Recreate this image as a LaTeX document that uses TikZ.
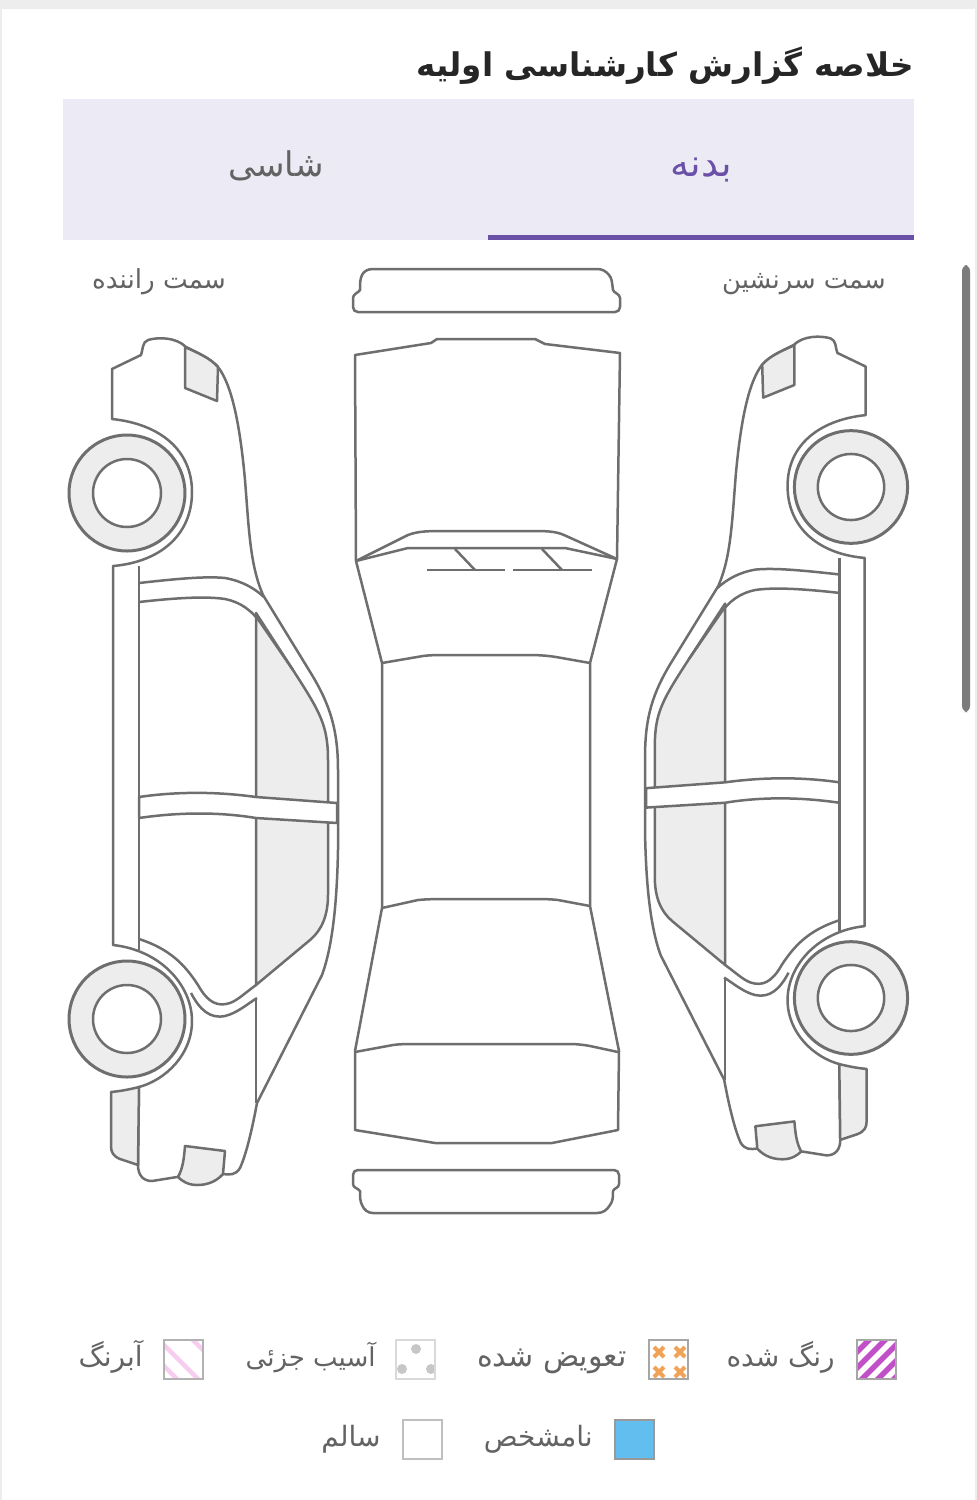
\documentclass[tikz,border=0pt]{standalone}
\usepackage{fontspec}
\usetikzlibrary{positioning}
\setmainfont{DejaVu Sans}
\newfontfamily\farsi[Script=Arabic]{DejaVu Sans}
\TeXXeTstate=1
\definecolor{linegray}{HTML}{6E6E6E}
\definecolor{partgray}{HTML}{EDEDED}
\definecolor{tabback}{HTML}{ECEBF5}
\definecolor{tabpurple}{HTML}{6A50A7}
\definecolor{labelgray}{HTML}{636363}
\definecolor{paintpurple}{HTML}{C04FC8}
\definecolor{swaporange}{HTML}{F0A257}
\definecolor{washpink}{HTML}{F6CDEE}
\definecolor{unknownblue}{HTML}{62BEEE}

% one side of the car, drawn for the left hand view
\newcommand{\sidecar}{
    % body
    \draw[part] (112,419) -- (112,369) -- (141,355) .. controls (143,350) and (142,342) .. (148,340)
        .. controls (158,337) and (176,337) .. (186,347) .. controls (198,353) and (210,358) .. (218,367)
        .. controls (232,385) and (240,425) .. (245,480) .. controls (249,530) and (250,565) .. (263,595)
        -- (312,675) .. controls (330,705) and (338,730) .. (338,770) -- (338,850)
        .. controls (337,900) and (333,945) .. (322,975) -- (257,1103)
        .. controls (252,1130) and (246,1155) .. (240,1168) .. controls (236,1175) and (230,1175) .. (223,1174)
        -- (177,1177) -- (152,1181) .. controls (143,1181) and (138,1175) .. (138,1165) -- (139,1087)
        .. controls (165,1080) and (192,1055) .. (192,1021) .. controls (192,985) and (160,950) .. (113,945)
        -- (113,566) .. controls (160,562) and (192,535) .. (192,492) .. controls (192,450) and (160,424) .. (112,419) -- cycle;
    % window glass
    \draw[part, fill=partgray] (256,613) -- (293,670) .. controls (320,712) and (328,725) .. (328,760) -- (328,895)
        .. controls (328,915) and (322,930) .. (310,940) -- (256,985) -- cycle;
    % roof channel
    \draw[part] (139,583) .. controls (175,579) and (205,576) .. (225,578) .. controls (242,581) and (254,588) .. (264,597);
    \draw[part] (139,602) .. controls (175,598) and (205,596) .. (225,599) .. controls (240,602) and (252,610) .. (262,625) -- (293,670);
    % door sill channel
    \draw[part] (139,566) -- (139,950);
    \draw[part] (139,939) .. controls (170,949) and (185,965) .. (198,985) .. controls (208,1003) and (218,1007) .. (230,1003) .. controls (238,1000) and (245,993) .. (256,985);
    \draw[part] (191,993) .. controls (200,1010) and (210,1019) .. (225,1016) .. controls (237,1013) and (246,1005) .. (257,998);
    % pillar
    \draw[part] (256,613) -- (256,985);
    \draw[part] (256,998) -- (256,1103);
    \draw[part, fill=white] (139,797) .. controls (180,791) and (220,792) .. (256,797) -- (337,803) -- (337,823)
        -- (256,818) .. controls (220,812) and (180,812) .. (139,818) -- cycle;
    % lamps
    \draw[part, fill=partgray] (185,347) .. controls (198,353) and (210,358) .. (218,367) -- (217,401) -- (185,388) -- cycle;
    \draw[part, fill=partgray] (185,1146) -- (225,1151) -- (223,1174) .. controls (215,1183) and (205,1185) .. (197,1185)
        .. controls (188,1185) and (182,1181) .. (178,1177) .. controls (183,1168) and (184,1158) .. (185,1146) -- cycle;
    % rear bumper end
    \draw[part, fill=partgray] (111,1092) .. controls (122,1091) and (131,1089) .. (139,1087) -- (138,1165) -- (120,1159)
        .. controls (113,1156) and (111,1152) .. (111,1146) -- cycle;
    % wheels
    \draw[tyre] (127,493) circle (58);
    \draw[part, fill=white] (127,493) circle (34);
    \draw[tyre] (127,1019) circle (58);
    \draw[part, fill=white] (127,1019) circle (34);
}

\begin{document}
\begin{tikzpicture}[
    x=0.5pt, y=-0.5pt,
    part/.style={draw=linegray, line width=1.25pt, line join=round},
    tyre/.style={draw=linegray, line width=1.5pt, fill=partgray},
    swatch/.style={draw=#1, line width=0.6pt},
    label/.style={font=\farsi\fontsize{14}{16}\selectfont, text=labelgray, inner sep=0pt, anchor=base}
]
    \useasboundingbox (0,0) rectangle (977,1500);

    % page
    \fill[partgray] (0,0) rectangle (977,1500);
    \fill[white] (2,9) rectangle (975,1500);
    \fill[linegray!90, rounded corners=3pt] (962,265) rectangle (970,712);

    % title and tabs
    \node[inner sep=0pt, anchor=base east, font=\farsi\bfseries\fontsize{16.3}{20}\selectfont, text=black!85] (title) at (914,76)
        {\beginR خلاصه گزارش کارشناسی اولیه\endR};
    \fill[tabback] (63,99) rectangle (914,240);
    \fill[tabpurple] (488,235) rectangle (914,240);
    \node[label, font=\farsi\fontsize{19}{21}\selectfont, text=tabpurple] (tabbody) at (701,176) {\beginR بدنه\endR};
    \node[label, font=\farsi\fontsize{17}{19}\selectfont] (tabchassis) at (276,176) {\beginR شاسی\endR};

    % side names
    \node[label, font=\farsi\fontsize{12.9}{15}\selectfont] (passenger) at (804,288) {\beginR سمت سرنشین\endR};
    \node[label, font=\farsi\fontsize{13.1}{15}\selectfont] (driver) at (159,288) {\beginR سمت راننده\endR};

    % top view
    \draw[part] (358,312) -- (615,312) .. controls (618,312) and (620,310) .. (620,307) -- (620,298)
        .. controls (620,294) and (614,293) .. (613,290) .. controls (612,283) and (612,278) .. (609,275)
        .. controls (606,271) and (602,269) .. (597,269) -- (373,269)
        .. controls (368,269) and (364,271) .. (362,275) .. controls (360,279) and (360,284) .. (360,290)
        .. controls (358,293) and (353,294) .. (353,298) -- (353,307) .. controls (353,310) and (355,312) .. (358,312) -- cycle;
    \draw[part] (355,355) -- (431,343) -- (437,339) -- (535,339) -- (545,344) -- (620,353) -- (617,559)
        -- (590,663) -- (590,906) -- (619,1051) -- (618,1130) -- (552,1143) -- (435,1143) -- (355,1130)
        -- (355,1051) -- (382,908) -- (382,663) -- (356,561) -- cycle;
    % windscreen
    \draw[part] (356,561) -- (408,535) .. controls (418,531) and (430,531) .. (445,531) -- (530,531)
        .. controls (545,531) and (555,531) .. (564,535) -- (617,559);
    \draw[part] (356,561) -- (408,548) -- (565,548) -- (617,559);
    \draw[part] (427,570) -- (505,570);
    \draw[part] (513,570) -- (592,570);
    \draw[part] (455,549) -- (475,570);
    \draw[part] (542,549) -- (562,570);
    % roof and boot lines
    \draw[part] (382,663) -- (423,656) .. controls (430,655) and (440,655) .. (450,655) -- (530,655) .. controls (540,655) and (550,656) .. (556,657) -- (590,663);
    \draw[part] (382,908) -- (418,900) .. controls (428,899) and (440,899) .. (450,899) -- (530,899) .. controls (540,899) and (550,899) .. (558,900) -- (590,906);
    \draw[part] (355,1052) -- (393,1045) .. controls (400,1044) and (407,1044) .. (413,1044) -- (570,1044) .. controls (577,1044) and (585,1045) .. (590,1046) -- (618,1052);
    \draw[part] (358,1170) -- (614,1170) .. controls (617,1170) and (619,1172) .. (619,1175) -- (619,1184)
        .. controls (619,1188) and (614,1188) .. (613,1191) .. controls (613,1197) and (613,1201) .. (610,1205)
        .. controls (607,1210) and (603,1213) .. (597,1213) -- (373,1213)
        .. controls (368,1213) and (364,1210) .. (362,1205) .. controls (360,1201) and (360,1197) .. (360,1191)
        .. controls (358,1188) and (353,1188) .. (353,1184) -- (353,1175) .. controls (353,1172) and (355,1170) .. (358,1170) -- cycle;

    % left and right views
    \begin{scope}
        \sidecar
    \end{scope}
    \begin{scope}[shift={(974.95,8.05)}, xscale=-0.976, yscale=0.9715]
        \sidecar
    \end{scope}

    % legend
    \begin{scope}
        \clip (857,1340) rectangle (896,1379);
        \draw[paintpurple, line width=2.7pt] (847,1362) -- (877,1332);
        \draw[paintpurple, line width=2.7pt] (847,1378) -- (893,1332);
        \draw[paintpurple, line width=2.7pt] (850,1391) -- (909,1332);
        \draw[paintpurple, line width=2.7pt] (866,1391) -- (909,1348);
        \draw[paintpurple, line width=2.7pt] (882,1391) -- (909,1364);
    \end{scope}
    \draw[swatch=black!35] (857,1340) rectangle (896,1379);
    \node[label, anchor=base east] (painted) at (835,1366) {\beginR رنگ شده\endR};

    \begin{scope}
        \clip (649,1340) rectangle (688,1379);
        \draw[swaporange, line width=2.1pt] (654,1347) -- (664,1357) (664,1347) -- (654,1357);
        \draw[swaporange, line width=2.1pt] (675,1347) -- (685,1357) (685,1347) -- (675,1357);
        \draw[swaporange, line width=2.1pt] (654,1367) -- (664,1377) (664,1367) -- (654,1377);
        \draw[swaporange, line width=2.1pt] (675,1367) -- (685,1377) (685,1367) -- (675,1377);
    \end{scope}
    \draw[swatch=black!35] (649,1340) rectangle (688,1379);
    \node[label, anchor=base east, font=\farsi\fontsize{15}{17}\selectfont] (replaced) at (627,1366) {\beginR تعویض شده\endR};

    \begin{scope}
        \clip (396,1340) rectangle (435,1379);
        \fill[black!22] (416,1349) circle (5);
        \fill[black!22] (402,1369) circle (5);
        \fill[black!22] (431,1369) circle (5);
    \end{scope}
    \draw[swatch=black!15] (396,1340) rectangle (435,1379);
    \node[label, anchor=base east, font=\farsi\fontsize{13}{15}\selectfont] (minor) at (376,1366) {\beginR آسیب جزئی\endR};

    \begin{scope}
        \clip (164,1340) rectangle (203,1379);
        \draw[washpink, line width=2.2pt] (155,1357) -- (185,1387);
        \draw[washpink, line width=2.2pt] (150,1331) -- (215,1396);
        \draw[washpink, line width=2.2pt] (185,1332) -- (215,1362);
    \end{scope}
    \draw[swatch=black!30] (164,1340) rectangle (203,1379);
    \node[label, anchor=base east] (wash) at (143,1366) {\beginR آبرنگ\endR};

    \draw[swatch=black!40, fill=unknownblue] (615,1420) rectangle (654,1459);
    \node[label, anchor=base east] (unknown) at (593,1446) {\beginR نامشخص\endR};

    \draw[swatch=black!25] (403,1420) rectangle (442,1459);
    \node[label, anchor=base east] (healthy) at (381,1446) {\beginR سالم\endR};
\end{tikzpicture}
\end{document}
